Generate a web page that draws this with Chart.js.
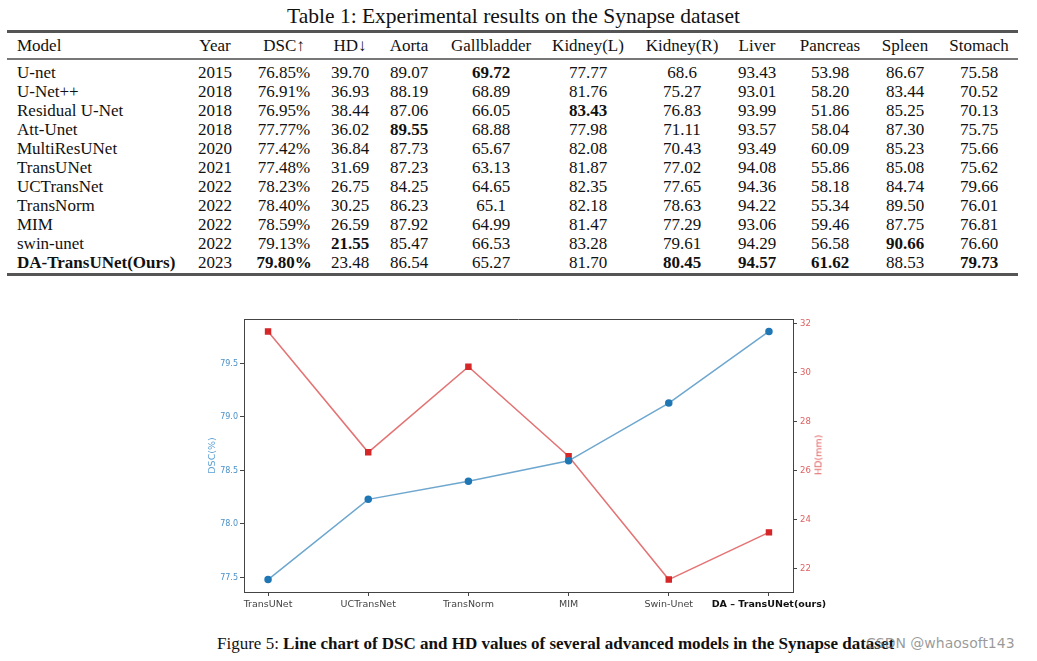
<!DOCTYPE html>
<html>
<head>
<meta charset="utf-8">
<script src="https://cdn.jsdelivr.net/npm/chart.js@4"></script>
<style>
  body { margin: 0; background: #fff; width: 1037px; height: 661px; position: relative; overflow: hidden; }
  #title { position: absolute; left: 0; width: 1027px; top: 4px; text-align: center;
    font: 21.5px "Liberation Serif", "Times New Roman", serif; color: #111; }
  #tbl { position: absolute; left: 7px; top: 30px; width: 1011px; border-collapse: collapse; table-layout: fixed;
    font: 17px "Liberation Serif", "Times New Roman", serif; color: #111; }
  #tbl td, #tbl th { padding: 0; text-align: center; font-weight: normal; line-height: 19px; white-space: nowrap; }
  #tbl thead tr { border-top: 3px solid #555; border-bottom: 2px solid #777; }
  #tbl thead th { height: 25px; }
  #tbl tbody tr:last-child { border-bottom: 3px solid #555; }
  #tbl tbody tr:first-child td { padding-top: 3px; }
  #tbl tbody tr:last-child td { padding-bottom: 1px; }
  #tbl td:first-child, #tbl th:first-child { text-align: left; padding-left: 10px; }
  #tbl .b { font-weight: bold; }
  #chartBox { position: absolute; left: 190px; top: 305px; width: 660px; height: 315px; }
  #hdLabel { position: absolute; left: 818px; top: 455px; transform: translate(-50%, -50%) rotate(-90deg);
    font: 9.5px "DejaVu Sans", sans-serif; color: #e06060; white-space: nowrap; }
  #caption { position: absolute; left: 217px; top: 634px; font: 17px "Liberation Serif", "Times New Roman", serif;
    color: #111; white-space: nowrap; }
  #caption b { font-weight: bold; }
  #mark { position: absolute; left: 866px; top: 635px; font: 14px "DejaVu Sans", sans-serif; color: rgba(120,120,120,0.75); white-space: nowrap; }
</style>
</head>
<body>
<div id="title">Table 1: Experimental results on the Synapse dataset</div>
<table id="tbl">
  <colgroup>
    <col style="width:183px"><col style="width:50px"><col style="width:88px"><col style="width:44px">
    <col style="width:74px"><col style="width:90px"><col style="width:104px"><col style="width:84px">
    <col style="width:66px"><col style="width:80px"><col style="width:70px"><col style="width:78px">
  </colgroup>
  <thead><tr id="head"></tr></thead>
  <tbody id="body"></tbody>
</table>
<div id="chartBox"><canvas id="graph"></canvas></div>
<div id="hdLabel">HD(mm)</div>
<div id="caption">Figure 5: <b>Line chart of DSC and HD values of several advanced models in the Synapse dataset</b></div>
<div id="mark">CSDN @whaosoft143</div>
<script>
// tabelle
const headers = ['Model', 'Year', 'DSC\u2191', 'HD\u2193', 'Aorta', 'Gallbladder', 'Kidney(L)', 'Kidney(R)', 'Liver', 'Pancreas', 'Spleen', 'Stomach'];
const models = ['U-net', 'U-Net++', 'Residual U-Net', 'Att-Unet', 'MultiResUNet', 'TransUNet', 'UCTransNet', 'TransNorm', 'MIM', 'swin-unet', 'DA-TransUNet(Ours)'];
const years = ['2015', '2018', '2018', '2018', '2020', '2021', '2022', '2022', '2022', '2022', '2023'];
const dsc = ['76.85', '76.91', '76.95', '77.77', '77.42', '77.48', '78.23', '78.40', '78.59', '79.13', '79.80'];
const hd = ['39.70', '36.93', '38.44', '36.02', '36.84', '31.69', '26.75', '30.25', '26.59', '21.55', '23.48'];
const aorta = ['89.07', '88.19', '87.06', '89.55', '87.73', '87.23', '84.25', '86.23', '87.92', '85.47', '86.54'];
const gallbladder = ['69.72', '68.89', '66.05', '68.88', '65.67', '63.13', '64.65', '65.1', '64.99', '66.53', '65.27'];
const kidneyL = ['77.77', '81.76', '83.43', '77.98', '82.08', '81.87', '82.35', '82.18', '81.47', '83.28', '81.70'];
const kidneyR = ['68.6', '75.27', '76.83', '71.11', '70.43', '77.02', '77.65', '78.63', '77.29', '79.61', '80.45'];
const liver = ['93.43', '93.01', '93.99', '93.57', '93.49', '94.08', '94.36', '94.22', '93.06', '94.29', '94.57'];
const pancreas = ['53.98', '58.20', '51.86', '58.04', '60.09', '55.86', '58.18', '55.34', '59.46', '56.58', '61.62'];
const spleen = ['86.67', '83.44', '85.25', '87.30', '85.23', '85.08', '84.74', '89.50', '87.75', '90.66', '88.53'];
const stomach = ['75.58', '70.52', '70.13', '75.75', '75.66', '75.62', '79.66', '76.01', '76.81', '76.60', '79.73'];

// diagramm
const chartModels = ['TransUNet', 'UCTransNet', 'TransNorm', 'MIM', 'Swin-Unet', 'DA \u2013 TransUNet(ours)'];
const chartDSC = [77.48, 78.23, 78.40, 78.59, 79.13, 79.80];
const chartHD = [31.69, 26.75, 30.25, 26.59, 21.55, 23.48];
const dscTicks = [77.5, 78.0, 78.5, 79.0, 79.5];
const hdTicks = [22, 24, 26, 28, 30, 32];

// tabelle aufbauen, bestwert fett
const head = document.getElementById('head');
for (let h of headers) {
  const th = document.createElement('th');
  th.textContent = h;
  head.appendChild(th);
}
const cols = [dsc, hd, aorta, gallbladder, kidneyL, kidneyR, liver, pancreas, spleen, stomach];
const best = cols.map((c, k) => {
  const nums = c.map(Number);
  return k === 1 ? Math.min(...nums) : Math.max(...nums);
});
const body = document.getElementById('body');
for (let i = 0; i < models.length; i++) {
  const tr = document.createElement('tr');
  const cells = [models[i], years[i]];
  for (let c of cols) cells.push(c[i]);
  cells.forEach((txt, j) => {
    const td = document.createElement('td');
    let t = txt;
    if (j === 2) t = txt + '%';
    td.textContent = t;
    if (j === 0 && i === models.length - 1) td.className = 'b';
    if (j >= 2 && Number(txt) === best[j - 2]) td.className = 'b';
    tr.appendChild(td);
  });
  body.appendChild(tr);
}

// rahmen oben
const frame = {
  id: 'frame',
  afterDraw(chart) {
    const a = chart.chartArea;
    const c = chart.ctx;
    c.save();
    c.strokeStyle = '#444';
    c.lineWidth = 1;
    c.beginPath();
    c.moveTo(a.left, a.top + 0.5);
    c.lineTo(a.right, a.top + 0.5);
    c.stroke();
    c.restore();
  }
};

function margin(arr) {
  const lo = Math.min(...arr), hi = Math.max(...arr);
  const m = (hi - lo) * 0.05;
  return [lo - m, hi + m];
}
const dscR = margin(chartDSC);
const hdR = margin(chartHD);

const ctx = document.getElementById('graph').getContext('2d');
new Chart(ctx, {
  type: 'line',
  data: {
    datasets: [{
      label: 'DSC',
      data: chartDSC.map((v, i) => ({ x: i, y: v })),
      yAxisID: 'y',
      borderColor: 'rgba(31,119,180,0.65)',
      backgroundColor: '#1f77b4',
      pointBackgroundColor: '#1f77b4',
      pointBorderColor: '#1f77b4',
      pointRadius: 3,
      pointStyle: 'circle',
      borderWidth: 1.5
    }, {
      label: 'HD',
      data: chartHD.map((v, i) => ({ x: i, y: v })),
      yAxisID: 'y1',
      borderColor: 'rgba(214,39,40,0.65)',
      backgroundColor: '#d62728',
      pointBackgroundColor: '#d62728',
      pointBorderColor: '#d62728',
      pointRadius: 3.5,
      pointStyle: 'rect',
      borderWidth: 1.5
    }]
  },
  options: {
    responsive: true,
    maintainAspectRatio: false,
    animation: false,
    layout: { padding: { top: 14, left: 0, right: 0, bottom: 0 } },
    plugins: { legend: { display: false }, tooltip: { enabled: false } },
    scales: {
      x: {
        type: 'linear',
        min: -0.24,
        max: 5.24,
        afterFit(s) { s.height = 28; },
        afterBuildTicks(s) { s.ticks = chartModels.map((_, i) => ({ value: i })); },
        grid: { display: true, drawOnChartArea: false, drawTicks: true, tickLength: 4, color: '#444' },
        border: { display: true, color: '#444' },
        ticks: {
          autoSkip: false, maxRotation: 0, padding: 3,
          callback: (v) => chartModels[v],
          color: (c) => c.index === chartModels.length - 1 ? '#111' : '#444',
          font: (c) => ({ family: 'DejaVu Sans', size: 9.5, weight: c.index === chartModels.length - 1 ? 'bold' : 'normal' })
        }
      },
      y: {
        position: 'left',
        min: dscR[0],
        max: dscR[1],
        afterFit(s) { s.width = 54; },
        afterBuildTicks(s) { s.ticks = dscTicks.map(v => ({ value: v })); },
        grid: { display: true, drawOnChartArea: false, drawTicks: true, tickLength: 4, color: '#444' },
        border: { display: true, color: '#444' },
        title: { display: true, text: 'DSC(%)', color: '#5a9fd4', font: { family: 'DejaVu Sans', size: 9.5 }, padding: { top: 17, bottom: 0 } },
        ticks: { padding: 2, color: '#4a90c8', font: { family: 'DejaVu Sans', size: 8 }, callback: (v) => v.toFixed(1) }
      },
      y1: {
        position: 'right',
        min: hdR[0],
        max: hdR[1],
        afterFit(s) { s.width = 57; },
        afterBuildTicks(s) { s.ticks = hdTicks.map(v => ({ value: v })); },
        grid: { display: true, drawOnChartArea: false, drawTicks: true, tickLength: 4, color: '#444' },
        border: { display: true, color: '#444' },
        ticks: { padding: 3, color: '#e06060', font: { family: 'DejaVu Sans', size: 8.5 }, callback: (v) => String(v) }
      }
    }
  },
  plugins: [frame]
});
</script>
</body>
</html>
